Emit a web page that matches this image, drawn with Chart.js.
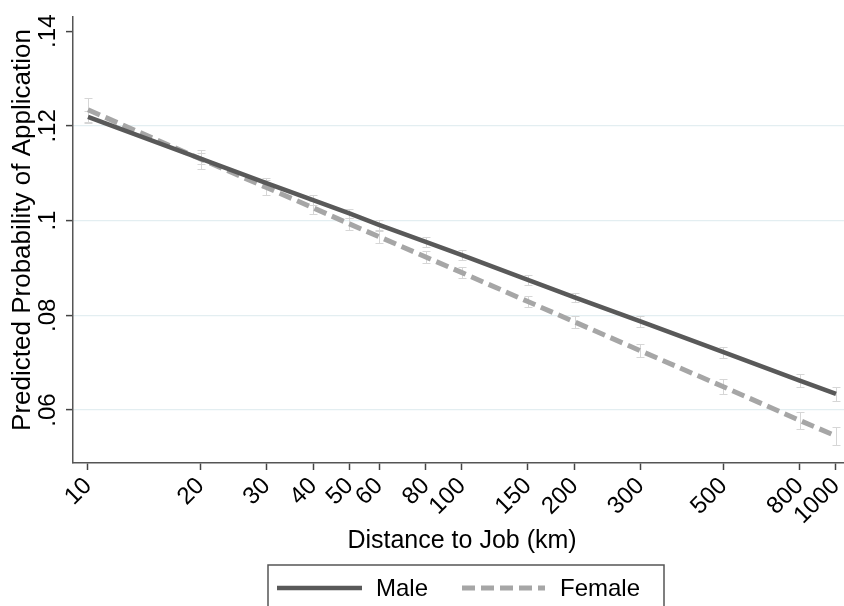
<!DOCTYPE html>
<html>
<head>
<meta charset="utf-8">
<script src="https://cdn.jsdelivr.net/npm/chart.js@4.4.1/dist/chart.umd.min.js"></script>
<style>
html,body{margin:0;padding:0;background:#fff;}
#wrap{width:844px;height:606px;position:relative;}
</style>
</head>
<body>
<div id="wrap"><canvas id="c" width="844" height="606"></canvas></div>
<script>
// ---- data ----
const distances = [10, 20, 30, 40, 50, 60, 80, 100, 150, 200, 300, 500, 800, 1000];
const xTickLabels = ['10','20','30','40','50','60','80','100','150','200','300','500','800','1000'];
const maleValues   = [0.1219, 0.1131, 0.1079, 0.1043, 0.1015, 0.0991, 0.0955, 0.0927, 0.0875, 0.0838, 0.0787, 0.0722, 0.0662, 0.0634];
const femaleValues = [0.1234, 0.1130, 0.1070, 0.1027, 0.0993, 0.0966, 0.0923, 0.0890, 0.0829, 0.0786, 0.0725, 0.0649, 0.0578, 0.0545];
const maleCI   = [0.0012, 0.0011, 0.0010, 0.0010, 0.0010, 0.0010, 0.0010, 0.0010, 0.0010, 0.0010, 0.0011, 0.0012, 0.0013, 0.0015];
const femaleCI = [0.0025, 0.0020, 0.0016, 0.0014, 0.0013, 0.0013, 0.0012, 0.0012, 0.0012, 0.0012, 0.0014, 0.0016, 0.0018, 0.0019];
const yTicks = [0.06, 0.08, 0.10, 0.12, 0.14];
const yTickLabels = ['.06', '.08', '.1', '.12', '.14'];
const seriesNames = ['Male', 'Female'];
const xTitle = 'Distance to Job (km)';
const yTitle = 'Predicted Probability of Application';

const FONT = 'Liberation Sans, Arial, sans-serif';
const maleColor = '#595959';
const femaleColor = '#a6a6a6';

const errorBars = {
  id: 'errorBars',
  beforeDatasetsDraw(chart) {
    const {ctx, scales: {x, y}} = chart;
    ctx.save();
    ctx.strokeStyle = '#d6d6d6';
    ctx.lineWidth = 1;
    const cis = [maleCI, femaleCI];
    chart.data.datasets.forEach((ds, k) => {
      ds.data.forEach((p, i) => {
        const px = Math.round(x.getPixelForValue(p.x)) + 0.5;
        const yTop = Math.round(y.getPixelForValue(p.y + cis[k][i])) + 0.5;
        const yBot = Math.round(y.getPixelForValue(p.y - cis[k][i])) + 0.5;
        ctx.beginPath();
        ctx.moveTo(px, yTop); ctx.lineTo(px, yBot);
        ctx.moveTo(px - 4, yTop); ctx.lineTo(px + 4, yTop);
        ctx.moveTo(px - 4, yBot); ctx.lineTo(px + 4, yBot);
        ctx.stroke();
      });
    });
    ctx.restore();
  }
};

const axisTitles = {
  id: 'axisTitles',
  afterDraw(chart) {
    const ctx = chart.ctx;
    ctx.save();
    ctx.fillStyle = '#000';
    ctx.textAlign = 'center';
    ctx.textBaseline = 'middle';
    ctx.font = '25px ' + FONT;
    ctx.fillText(xTitle, 462, 541);
    ctx.translate(23, 230);
    ctx.rotate(-Math.PI / 2);
    ctx.font = '26px ' + FONT;
    ctx.fillText(yTitle, 0, 0);
    ctx.restore();
  }
};

const boxLegend = {
  id: 'boxLegend',
  afterDraw(chart) {
    const ctx = chart.ctx;
    ctx.save();
    ctx.strokeStyle = '#555';
    ctx.lineWidth = 1.5;
    ctx.strokeRect(268, 565, 396, 60);
    const ds = chart.data.datasets;
    const items = [{x0: 277, x1: 362, tx: 376}, {x0: 462, x1: 545, tx: 560}];
    items.forEach((it, k) => {
      ctx.beginPath();
      ctx.strokeStyle = ds[k].borderColor;
      ctx.lineWidth = ds[k].borderWidth;
      ctx.setLineDash(ds[k].borderDash || []);
      ctx.moveTo(it.x0, 588); ctx.lineTo(it.x1, 588);
      ctx.stroke();
      ctx.setLineDash([]);
      ctx.fillStyle = '#000';
      ctx.font = '24px ' + FONT;
      ctx.textBaseline = 'middle';
      ctx.textAlign = 'left';
      ctx.fillText(ds[k].label, it.tx, 589);
    });
    ctx.restore();
  }
};

const toPts = vals => distances.map((d, i) => ({x: d, y: vals[i]}));

new Chart(document.getElementById('c'), {
  type: 'line',
  data: {
    datasets: [
      {label: seriesNames[0], data: toPts(maleValues), borderColor: maleColor, borderWidth: 4.5, pointRadius: 0, tension: 0, fill: false},
      {label: seriesNames[1], data: toPts(femaleValues), borderColor: femaleColor, borderWidth: 5, borderDash: [13, 6], pointRadius: 0, tension: 0, fill: false}
    ]
  },
  options: {
    responsive: false,
    animation: false,
    devicePixelRatio: 1,
    layout: {padding: {left: 0, right: 0, top: 17, bottom: 46.6}},
    plugins: {legend: {display: false}, tooltip: {enabled: false}},
    scales: {
      x: {
        type: 'logarithmic',
        min: 9.119,
        max: 1050.5,
        afterBuildTicks: s => { s.ticks = distances.map(v => ({value: v})); },
        afterFit: s => { s.height = 96.4; s.paddingLeft = 0; s.paddingRight = 0; },
        ticks: {
          autoSkip: false, minRotation: 45, maxRotation: 45, padding: 2,
          color: '#000', font: {family: FONT, size: 24},
          callback: (v, i) => xTickLabels[i]
        },
        grid: {drawOnChartArea: false, tickLength: 7, tickColor: '#444', tickWidth: 1.5},
        border: {color: '#555', width: 1.5},
        title: {display: false}
      },
      y: {
        type: 'linear',
        min: 0.0488,
        max: 0.143,
        afterBuildTicks: s => { s.ticks = yTicks.map(v => ({value: v})); },
        afterFit: s => { s.width = 73; s.paddingTop = 0; s.paddingBottom = 0; },
        ticks: {
          minRotation: 90, maxRotation: 90, crossAlign: 'center', padding: 1,
          color: '#000', font: {family: FONT, size: 24},
          callback: (v, i) => yTickLabels[i]
        },
        grid: {
          color: ctx => (ctx.tick && ctx.tick.value >= 0.14) ? 'rgba(0,0,0,0)' : '#e3eef1',
          lineWidth: 1.2, tickLength: 7, tickColor: '#444', tickWidth: 1.5
        },
        border: {color: '#555', width: 1.5},
        title: {display: false}
      }
    }
  },
  plugins: [errorBars, axisTitles, boxLegend]
});
</script>
</body>
</html>
